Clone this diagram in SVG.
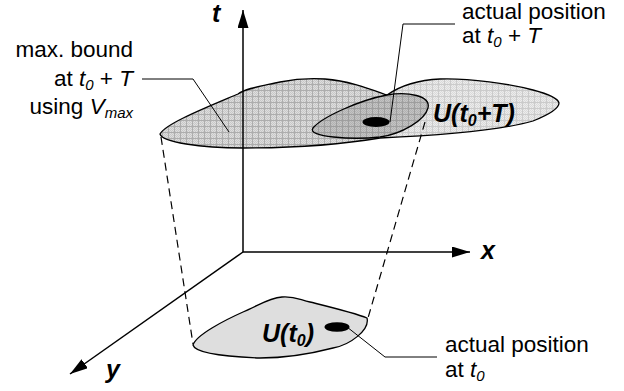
<svg xmlns="http://www.w3.org/2000/svg" width="624" height="391" viewBox="0 0 624 391">
<defs>
<pattern id="stippleA" patternUnits="userSpaceOnUse" width="2" height="2">
<rect width="2" height="2" fill="#dedede"/>
<rect width="1" height="1" fill="#c8c8c8"/>
<rect x="1" y="1" width="1" height="1" fill="#c8c8c8"/>
</pattern>
<pattern id="gridDark" patternUnits="userSpaceOnUse" width="6" height="6">
<rect width="6" height="6" fill="url(#stippleA)"/>
<path d="M0,0.5H6M0.5,0V6" stroke="#adadad" stroke-width="1"/>
</pattern>
<pattern id="stippleB" patternUnits="userSpaceOnUse" width="2" height="2">
<rect width="2" height="2" fill="#ececec"/>
<rect width="1" height="1" fill="#dadada"/>
<rect x="1" y="1" width="1" height="1" fill="#dadada"/>
</pattern>
<pattern id="gridLight" patternUnits="userSpaceOnUse" width="6" height="6">
<rect width="6" height="6" fill="url(#stippleB)"/>
<path d="M0,0.5H6M0.5,0V6" stroke="#cbcbcb" stroke-width="1"/>
</pattern>
<pattern id="stippleC" patternUnits="userSpaceOnUse" width="2" height="2">
<rect width="2" height="2" fill="#c4c4c4"/>
<rect width="1" height="1" fill="#b2b2b2"/>
<rect x="1" y="1" width="1" height="1" fill="#b2b2b2"/>
</pattern>
<pattern id="gridMid" patternUnits="userSpaceOnUse" width="6" height="6">
<rect width="6" height="6" fill="url(#stippleC)"/>
<path d="M0,0.5H6M0.5,0V6" stroke="#9e9e9e" stroke-width="1"/>
</pattern>
<marker id="arrow" markerUnits="userSpaceOnUse" markerWidth="18" markerHeight="12" refX="18" refY="5.5" orient="auto">
<path d="M0,0L18,5.5L0,11Z" fill="#000"/>
</marker>
</defs>
<style>
.lbl{font-family:"Liberation Sans",Arial,sans-serif;font-size:22.5px;fill:#000}
.bold{font-family:"Liberation Sans",Arial,sans-serif;font-size:25px;font-weight:bold;font-style:italic;fill:#000}
.it{font-style:italic}
.outline{fill:none;stroke:#000;stroke-width:1.3}
.shape{stroke:#000;stroke-width:1.3}
.axis{fill:none;stroke:#000;stroke-width:1.5}
.dash{fill:none;stroke:#000;stroke-width:1.2;stroke-dasharray:8 5}
.lead{fill:none;stroke:#000;stroke-width:1}
</style>

<g id="maxbound">
<path d="M160,134 C165,124 205,108 238,94 C246,88 262,86 280,82 C295,79 310,78 325,79 C350,81 370,89 387,95 L402,110 L380,138 C350,143 300,148 243,148 C200,148 162,142 160,134 Z" fill="url(#gridDark)"/>
<path class="outline" d="M387,95 C370,89 350,81 325,79 C310,78 295,79 280,82 C262,86 246,88 238,94 C205,108 165,124 160,134 C162,142 200,148 243,148 C300,148 350,143 380,138"/>
<text class="lbl" text-anchor="end" x="133" y="57">max. bound</text>
<text class="lbl" text-anchor="end" x="133" y="86">at <tspan class="it">t</tspan><tspan class="it" font-size="15" dy="4">0</tspan><tspan dy="-4"> + </tspan><tspan class="it">T</tspan></text>
<text class="lbl" text-anchor="end" x="133" y="114">using <tspan class="it">V</tspan><tspan class="it" font-size="15" dy="4">max</tspan></text>
</g>

<g id="future">
<path d="M387,95 C400,86 418,80 440,79 C470,78 510,84 533,90 C548,94 558,98 559,103 C559,109 548,115 533,121 C505,129 450,135 380,138 L362,115 Z" fill="url(#gridLight)"/>
<path class="outline" d="M387,95 C400,86 418,80 440,79 C470,78 510,84 533,90 C548,94 558,98 559,103 C559,109 548,115 533,121 C505,129 450,135 380,138"/>
<path class="shape" fill="url(#gridMid)" d="M313,128 C322,117 360,100 387,95 C408,91 431,96 428,108 C425,120 402,134 380,137 C352,140 306,137 313,128 Z"/>
<ellipse cx="376" cy="122" rx="13.5" ry="5" fill="#000"/>
<text class="bold" x="433" y="122">U(t<tspan font-size="16" dy="4">0</tspan><tspan dy="-4">+T)</tspan></text>
</g>

<g id="current">
<path class="shape" fill="#dedede" d="M193,345 C196,335 225,320 243,312 C258,306 268,298 282,297 C295,296 300,300 310,302 C330,307 355,313 367,318 C370,330 350,345 333,348 C310,354 285,358 260,358 C235,357 195,354 193,345 Z"/>
<ellipse cx="337" cy="327" rx="12.5" ry="4.8" fill="#000"/>
<text class="bold" x="262" y="342">U(t<tspan font-size="16" dy="4">0</tspan><tspan dy="-4">)</tspan></text>
</g>

<g id="label-actual-T">
<text class="lbl" x="462" y="19">actual position</text>
<text class="lbl" x="462" y="43">at <tspan class="it">t</tspan><tspan class="it" font-size="15" dy="4">0</tspan><tspan dy="-4"> + </tspan><tspan class="it">T</tspan></text>
</g>

<g id="label-actual-0">
<text class="lbl" x="445" y="352">actual position</text>
<text class="lbl" x="445" y="377">at <tspan class="it">t</tspan><tspan class="it" font-size="15" dy="4">0</tspan></text>
</g>

<g id="connectors">
<line class="axis" x1="243" y1="252" x2="243" y2="10" marker-end="url(#arrow)"/>
<line class="axis" x1="243" y1="252" x2="470" y2="252" marker-end="url(#arrow)"/>
<line class="axis" x1="243" y1="252" x2="70" y2="374" marker-end="url(#arrow)"/>
<line class="dash" x1="161" y1="137" x2="193" y2="344"/>
<line class="dash" x1="425" y1="122" x2="368" y2="318"/>
<polyline class="lead" points="142,79 193,79 229,132"/>
<polyline class="lead" points="390,122 403,24 455,24"/>
<polyline class="lead" points="347,327 385,357 437,357"/>
</g>

<g id="axis-labels">
<text class="bold" font-size="24" x="212" y="22">t</text>
<text class="bold" x="481" y="259">x</text>
<text class="bold" x="106" y="378">y</text>
</g>
</svg>
